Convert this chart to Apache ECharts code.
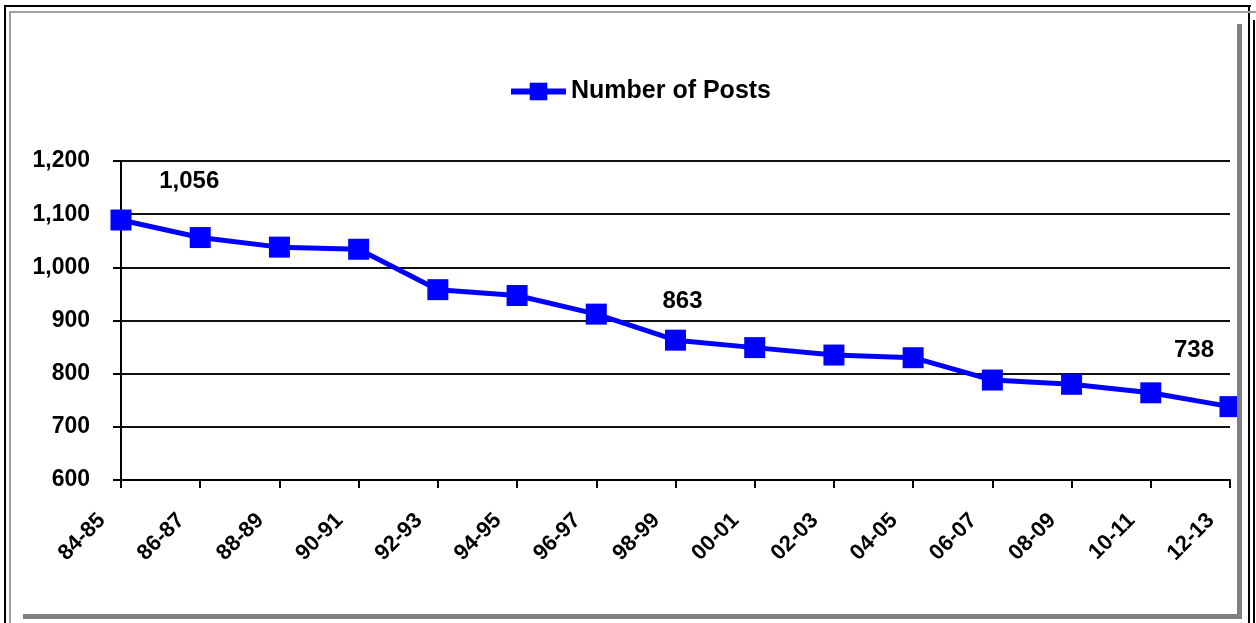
<!DOCTYPE html>
<html>
<head>
<meta charset="utf-8">
<title>Number of Posts</title>
<script src="https://cdn.jsdelivr.net/npm/echarts@6/dist/echarts.min.js"></script>
<style>
  html, body { margin: 0; padding: 0; background: #fff; }
  #wrap { position: relative; width: 1256px; height: 623px; overflow: hidden; background: #fff; }
  #chart { position: absolute; left: 0; top: 0; width: 1256px; height: 623px; }
  .ln { position: absolute; pointer-events: none; }
</style>
</head>
<body>
<div id="wrap">
  <div id="chart"></div>
  <!-- outer black frame -->
  <div class="ln" style="left:4px;top:5px;width:2px;height:618px;background:#000"></div>
  <div class="ln" style="left:4px;top:5px;width:1247px;height:2px;background:#000"></div>
  <div class="ln" style="left:1248px;top:5px;width:2px;height:618px;background:#000"></div>
  <div class="ln" style="left:1253px;top:20px;width:2px;height:603px;background:#000"></div>
  <!-- inner chart-area border -->
  <div class="ln" style="left:9px;top:11px;width:2px;height:612px;background:#a0a0a0"></div>
  <div class="ln" style="left:9px;top:11px;width:1247px;height:2px;background:#a0a0a0"></div>
  <!-- drop shadow -->
  <div class="ln" style="left:1237px;top:24px;width:5px;height:595px;background:#808080"></div>
  <div class="ln" style="left:23px;top:614px;width:1219px;height:5px;background:#808080"></div>
</div>
<script>
// School years on the category axis
const years = ['84-85', '86-87', '88-89', '90-91', '92-93', '94-95', '96-97', '98-99',
               '00-01', '02-03', '04-05', '06-07', '08-09', '10-11', '12-13'];
// Number of posts per year
const posts = [1089, 1056, 1038, 1034, 958, 947, 912, 863, 849, 835, 830, 788, 780, 764, 738];
// Value-axis ticks
const yTicks = [600, 700, 800, 900, 1000, 1100, 1200];
// Points whose values are written on the chart, with label offsets
const labelled = { 1: [-11, -56], 7: [7, -39], 14: [-36, -56] };

const fmt = v => Number(v).toLocaleString('en-US');
const font = 'Liberation Sans, Arial, sans-serif';

const seriesData = posts.map((v, i) => {
  if (labelled[i]) {
    return {
      value: v,
      label: {
        show: true,
        position: 'inside',
        offset: labelled[i],
        formatter: p => fmt(p.value),
        color: '#000',
        fontFamily: font,
        fontWeight: 'bold',
        fontSize: 24
      }
    };
  }
  return v;
});

const chart = echarts.init(document.getElementById('chart'), null, { renderer: 'canvas' });
chart.setOption({
  backgroundColor: 'transparent',
  animation: false,
  legend: {
    left: 508,
    top: 79,
    padding: 0,
    itemWidth: 55,
    itemHeight: 22,
    lineStyle: { width: 6 },
    textStyle: { color: '#000', fontFamily: font, fontWeight: 'bold', fontSize: 25 },
    data: ['Number of Posts']
  },
  grid: { left: 121, right: 26, top: 161, bottom: 143, containLabel: false },
  xAxis: {
    type: 'category',
    data: years,
    boundaryGap: false,
    axisLine: { lineStyle: { color: '#000', width: 2 } },
    axisTick: { show: true, length: 8, lineStyle: { color: '#000', width: 2 } },
    axisLabel: {
      rotate: 45,
      interval: 0,
      margin: 18,
      padding: [0, 27, 0, 0],
      color: '#000',
      fontFamily: font,
      fontWeight: 'bold',
      fontSize: 22
    },
    splitLine: { show: false }
  },
  yAxis: {
    type: 'value',
    min: yTicks[0],
    max: yTicks[yTicks.length - 1],
    interval: yTicks[1] - yTicks[0],
    axisLine: { show: true, lineStyle: { color: '#000', width: 2 } },
    axisTick: { show: true, length: 8, lineStyle: { color: '#000', width: 2 } },
    axisLabel: {
      margin: 31,
      color: '#000',
      fontFamily: font,
      fontWeight: 'bold',
      fontSize: 23,
      formatter: v => fmt(v)
    },
    splitLine: { show: true, lineStyle: { color: '#111', width: 2 } }
  },
  series: [{
    name: 'Number of Posts',
    type: 'line',
    data: seriesData,
    symbol: 'rect',
    symbolSize: 21,
    itemStyle: { color: '#0000ff' },
    lineStyle: { color: '#0000ff', width: 5 },
    label: { show: false },
    emphasis: { disabled: true },
    z: 5
  }]
});
</script>
</body>
</html>
